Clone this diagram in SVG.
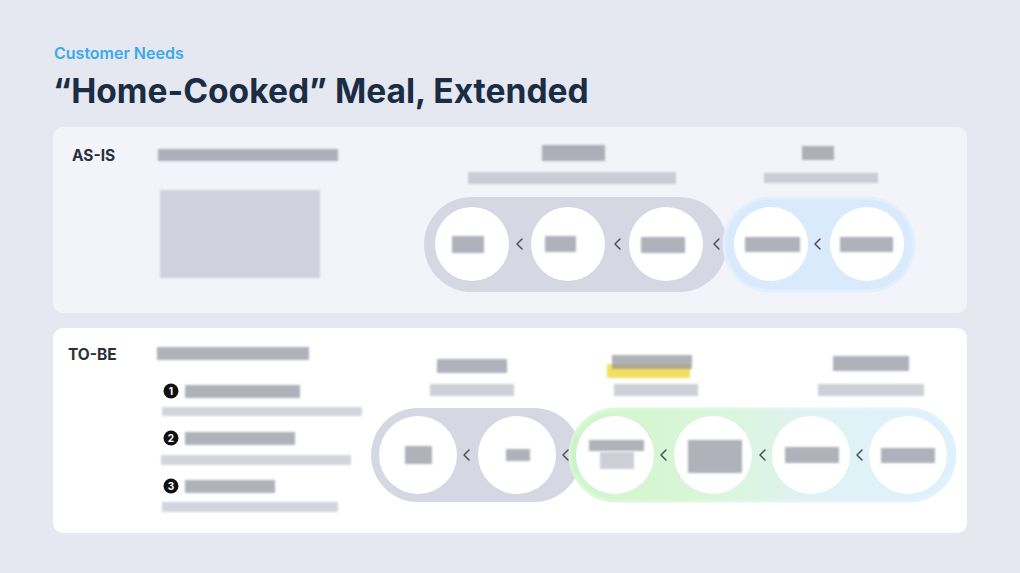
<svg xmlns="http://www.w3.org/2000/svg" width="1020" height="573" viewBox="0 0 1020 573">
<style>
.eyebrow{font-family:Inter,"Noto Sans",sans-serif;font-weight:600;font-size:16px;fill:#3ba9ee}
.title{font-family:Inter,"Noto Sans",sans-serif;font-weight:700;font-size:33.6px;fill:#1b2d45}
.sec{font-family:Inter,"Noto Sans",sans-serif;font-weight:700;font-size:15.5px;fill:#2a2f3a}
.num{font-family:Inter,"Noto Sans",sans-serif;font-weight:700;font-size:10px;fill:#fff}
.bd{fill:#8e929d;opacity:.7}
.bl{fill:#b9bcc6;opacity:.7}
.bb{fill:#c3c7d1;opacity:.75}
.node{fill:#fff}
.chev{fill:none;stroke:#4b505d;stroke-width:1.5;stroke-linecap:round;stroke-linejoin:round}
</style>
<defs>
<filter id="soft" x="-10%" y="-50%" width="120%" height="200%"><feGaussianBlur stdDeviation="1.2"/></filter>
<linearGradient id="gb" x1="568" y1="0" x2="956" y2="0" gradientUnits="userSpaceOnUse">
<stop offset="0" stop-color="#cdf5c8"/>
<stop offset="0.33" stop-color="#d6f6d3"/>
<stop offset="0.65" stop-color="#ddf2f5"/>
<stop offset="1" stop-color="#dcf0fc"/>
</linearGradient>
<linearGradient id="gbs" x1="568" y1="0" x2="956" y2="0" gradientUnits="userSpaceOnUse">
<stop offset="0" stop-color="#d6f8d2"/>
<stop offset="0.35" stop-color="#dcf7da"/>
<stop offset="0.65" stop-color="#e2f3fa"/>
<stop offset="1" stop-color="#e0f1fd"/>
</linearGradient>
</defs>
<rect width="1020" height="573" fill="#e5e8f1"/>
<text class="eyebrow" x="54" y="59">Customer Needs</text>
<text class="title" x="53" y="103">“Home-Cooked” Meal, Extended</text>

<g id="asis-panel">
<rect x="53" y="127" width="914" height="186" rx="10" fill="#f3f4f9"/>
<text class="sec" x="72" y="161">AS-IS</text>
<g filter="url(#soft)">
<rect class="bd" x="158" y="149" width="180" height="12"/>
<rect class="bb" x="160" y="190" width="160" height="88" opacity="0.6"/>
</g>
</g>

<g id="asis-before">
<rect x="424" y="197" width="303" height="95" rx="47.5" fill="#d5d8e2"/>
<g filter="url(#soft)">
<rect class="bd" x="542" y="145" width="63" height="16"/>
<rect class="bl" x="468" y="172" width="208" height="12"/>
</g>
</g>
<g id="asis-after">
<rect x="724" y="198" width="190" height="93" rx="46.5" fill="#d8eafb" stroke="#e2f0fd" stroke-width="3"/>
<g filter="url(#soft)">
<rect class="bd" x="802" y="146" width="32" height="14"/>
<rect class="bl" x="764" y="173" width="114" height="10"/>
</g>
</g>
<g id="asis-n1"><circle class="node" cx="472" cy="244" r="37"/><rect class="bd" x="452" y="236" width="32" height="17" filter="url(#soft)"/></g>
<g id="asis-n2"><circle class="node" cx="568" cy="244" r="37"/><rect class="bd" x="545" y="236" width="31" height="16" filter="url(#soft)"/></g>
<g id="asis-n3"><circle class="node" cx="666" cy="244" r="37"/><rect class="bd" x="641" y="237" width="44" height="16" filter="url(#soft)"/></g>
<g id="asis-n4"><circle class="node" cx="771" cy="244" r="37"/><rect class="bd" x="745" y="237" width="55" height="15" filter="url(#soft)"/></g>
<g id="asis-n5"><circle class="node" cx="867" cy="244" r="37"/><rect class="bd" x="840" y="237" width="53" height="15" filter="url(#soft)"/></g>

<g id="tobe-panel">
<rect x="53" y="328" width="914" height="205" rx="10" fill="#ffffff"/>
<text class="sec" x="68" y="360">TO-BE</text>
<g filter="url(#soft)">
<rect class="bd" x="157" y="347" width="152" height="13"/>
<rect class="bd" x="185" y="385" width="115" height="13"/>
<rect class="bb" x="162" y="407" width="200" height="9"/>
<rect class="bd" x="185" y="432" width="110" height="13"/>
<rect class="bb" x="161" y="455" width="190" height="10"/>
<rect class="bd" x="185" y="480" width="90" height="13"/>
<rect class="bb" x="162" y="502" width="176" height="10"/>
</g>
<circle cx="171" cy="391" r="7.5" fill="#111"/><text class="num" x="171" y="394.5" text-anchor="middle">1</text>
<circle cx="171" cy="438" r="7.5" fill="#111"/><text class="num" x="171" y="441.5" text-anchor="middle">2</text>
<circle cx="171" cy="486" r="7.5" fill="#111"/><text class="num" x="171" y="489.5" text-anchor="middle">3</text>
</g>

<g id="tobe-before">
<rect x="371" y="408" width="210" height="94" rx="47" fill="#d5d8e2"/>
<g filter="url(#soft)">
<rect class="bd" x="437" y="359" width="70" height="14"/>
<rect class="bl" x="430" y="384" width="84" height="12"/>
</g>
</g>
<g id="tobe-after">
<rect x="570" y="409" width="385" height="92" rx="46" fill="url(#gb)" stroke="url(#gbs)" stroke-width="3" opacity="0.92"/>
<rect x="607" y="364" width="83" height="14" fill="#f5df63" filter="url(#soft)"/>
<g filter="url(#soft)">
<rect class="bd" x="612" y="355" width="80" height="14" opacity="0.55"/>
<rect class="bl" x="614" y="384" width="84" height="12"/>
<rect class="bd" x="833" y="356" width="76" height="15"/>
<rect class="bl" x="818" y="384" width="106" height="12"/>
</g>
</g>
<g id="tobe-n1"><circle class="node" cx="418" cy="455" r="39"/><rect class="bd" x="405" y="446" width="27" height="18" filter="url(#soft)"/></g>
<g id="tobe-n2"><circle class="node" cx="517" cy="455" r="39"/><rect class="bd" x="506" y="449" width="24" height="12" filter="url(#soft)"/></g>
<g id="tobe-n3"><circle class="node" cx="615" cy="455" r="39"/><rect class="bd" x="589" y="440" width="55" height="11" filter="url(#soft)"/><rect class="bl" x="600" y="452" width="34" height="17" filter="url(#soft)"/></g>
<g id="tobe-n4"><circle class="node" cx="713" cy="455" r="39"/><rect class="bd" x="688" y="440" width="54" height="33" filter="url(#soft)" opacity="0.55"/></g>
<g id="tobe-n5"><circle class="node" cx="811" cy="455" r="39"/><rect class="bd" x="785" y="447" width="54" height="16" filter="url(#soft)"/></g>
<g id="tobe-n6"><circle class="node" cx="908" cy="455" r="39"/><rect class="bd" x="881" y="448" width="54" height="15" filter="url(#soft)"/></g>

<g id="connectors">
<path class="chev" d="M522 239 L517 244 L522 249"/>
<path class="chev" d="M620 239 L615 244 L620 249"/>
<path class="chev" d="M719 239 L714 244 L719 249"/>
<path class="chev" d="M820 239 L815 244 L820 249"/>
<path class="chev" d="M469 450 L464 455 L469 460"/>
<path class="chev" d="M568 450 L563 455 L568 460"/>
<path class="chev" d="M666 450 L661 455 L666 460"/>
<path class="chev" d="M765 450 L760 455 L765 460"/>
<path class="chev" d="M862 450 L857 455 L862 460"/>
</g>
</svg>
